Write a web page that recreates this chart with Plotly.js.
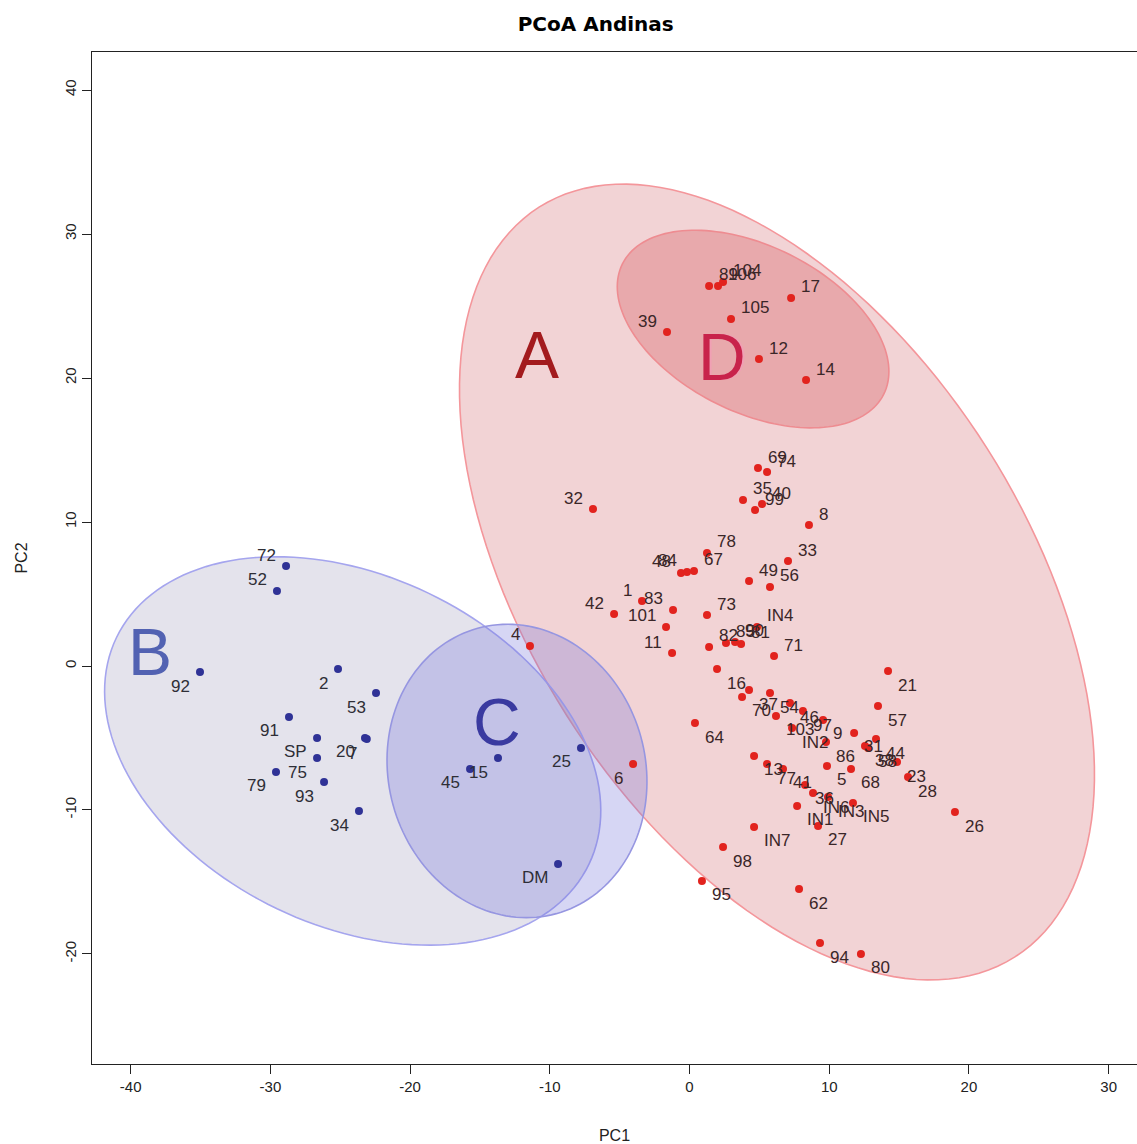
<!DOCTYPE html>
<html>
<head>
<meta charset="utf-8">
<script src="https://cdn.plot.ly/plotly-3.0.1.min.js"></script>
<style>html,body{margin:0;padding:0;background:#fff;}#chart{width:1137px;height:1144px;}</style>
</head>
<body>
<div id="chart"></div>
<script>
// ---- data: red group (A / D) ----
const redLabels = ['89','106','104','17','105','39','12','14','69','74','35','40','99','8','32','78','67','48','84','33','49','56','1','83','42','101','11','73','IN4','82','85','90','81','71','4','6',
  '16','37','70','54','103','46','97','9','IN2','86','31','44','38','58','23','28','68','5','13','77','41','36','IN6','IN3','IN5','IN1','27','IN7','26','21','57','64','98','95','62','94','80'];
const redX = [1.40,2.04,2.40,7.27,2.97,-1.61,4.97,8.34,4.90,5.55,3.83,5.19,4.69,8.55,-6.91,1.25,0.32,-0.61,-0.18,7.05,4.26,5.76,-3.40,-1.18,-5.40,-1.68,-1.25,1.25,4.83,1.40,2.61,3.26,3.69,6.05,-11.42,-4.04,
  1.97,4.26,3.76,5.76,6.19,7.19,8.12,9.56,7.34,9.77,11.78,13.35,12.56,12.78,14.85,15.64,11.56,9.84,4.62,5.55,6.69,8.27,8.84,9.91,11.70,7.70,9.20,4.62,19.00,14.21,13.49,0.39,2.40,0.89,7.84,9.34,12.27];
const redY = [26.39,26.39,26.67,25.56,24.10,23.19,21.32,19.86,13.75,13.47,11.53,11.25,10.83,9.79,10.90,7.85,6.60,6.46,6.53,7.29,5.90,5.49,4.51,3.89,3.61,2.71,0.90,3.54,2.71,1.32,1.60,1.67,1.53,0.69,1.39,-6.81,
  -0.21,-1.67,-2.15,-1.88,-3.47,-2.57,-3.13,-3.75,-4.31,-5.28,-4.65,-5.07,-5.56,-5.69,-6.67,-7.71,-7.15,-6.94,-6.25,-6.81,-7.15,-8.26,-8.82,-9.10,-9.51,-9.72,-11.11,-11.18,-10.14,-0.35,-2.78,-3.96,-12.57,-14.93,-15.49,-19.24,-20.00];

// ---- data: blue group (B / C) ----
const blueLabels = ['72','52','92','2','53','91','SP','75','79','93','20','7','34','15','45','25','DM'];
const blueX = [-28.88,-29.53,-35.04,-25.16,-22.44,-28.67,-26.66,-26.66,-29.60,-26.16,-23.23,-23.10,-23.66,-13.71,-15.71,-7.77,-9.41];
const blueY = [6.94,5.21,-0.42,-0.21,-1.88,-3.54,-5.00,-6.39,-7.36,-8.06,-5.00,-5.07,-10.07,-6.39,-7.15,-5.69,-13.75];

// ---- label placement (style only) ----
const redPos = ['tr','tr','tr','tr','tr','tl','tr','tr','tr','tr','tr','tr','tr','tr','tl','tr','tr','tl','tl','tr','tr','tr','tl','tl','tl','tl','tl','tr','tr','tr','tr','tr','tr','tr','tl','bl',
  'br','br','br','br','br','br','br','br','br','br','br','br','br','br','br','br','br','br','br','br','br','br','br','br','br','br','br','br','br','br','br','br','br','br','br','br','br'];
const bluePos = ['tl','tl','bl','bl','bl','bl','bl','bl','bl','bl','bl','bl','bl','bl','bl','bl','bl'];

// ---- group ellipses (center in data units, semi-axes in px, angle deg) ----
const groups = [
  {name:'A', cx:6.26,  cy:5.83,  a:444, b:249, ang:-57.6, fill:'rgba(212,108,115,0.30)', line:'rgba(244,150,155,1)', lx:-10.92, ly:21.6, lc:'#A31B1E'},
  {name:'D', cx:4.55,  cy:23.4,  a:146, b:83,  ang:-26.5, fill:'rgba(215,100,105,0.38)', line:'rgba(238,140,145,1)', lx:2.33, ly:21.46, lc:'#C8234B'},
  {name:'B', cx:-24.11,cy:-5.9,  a:262, b:175, ang:-25.6, fill:'rgba(147,143,179,0.25)', line:'rgba(165,165,238,1)', lx:-38.62, ly:0.97, lc:'#5262B2'},
  {name:'C', cx:-12.35,cy:-7.29, a:148, b:128.5,ang:-74.6, fill:'rgba(120,120,220,0.30)', line:'rgba(150,150,225,1)', lx:-13.78, ly:-3.89, lc:'#3A3AA0'}
];
const PXX = 13.97, PXY = 14.4;

function ellipsePath(g){
  const phi = g.ang*Math.PI/180;
  let d = '';
  const n = 160;
  for(let i=0;i<=n;i++){
    const t = 2*Math.PI*i/n;
    const ux = g.a*Math.cos(t), uy = g.b*Math.sin(t);
    const sx = ux*Math.cos(phi) - uy*Math.sin(phi);
    const sy = ux*Math.sin(phi) + uy*Math.cos(phi);
    const x = g.cx + sx/PXX, y = g.cy + sy/PXY;
    d += (i===0?'M ':' L ') + x.toFixed(4) + ',' + y.toFixed(4);
  }
  return d + ' Z';
}

const shapes = groups.map(g => ({
  type:'path', xref:'x', yref:'y', path: ellipsePath(g),
  fillcolor: g.fill, line:{color:g.line, width:1.6}, layer:'below'
}));

const annotations = [];
function addLabels(labels, xs, ys, pos, color){
  labels.forEach((t,i)=>{
    const p = pos[i];
    const right = p[1]==='r';
    const top = p[0]==='t';
    annotations.push({
      x: xs[i], y: ys[i], xref:'x', yref:'y', text: t, showarrow:false,
      xanchor: right?'left':'right', yanchor:'middle',
      xshift: right?8:-8, yshift: top?11:-14,
      font:{family:'Liberation Sans, Arial, sans-serif', size:17, color:color}
    });
  });
}
addLabels(redLabels, redX, redY, redPos, '#3a2628');
addLabels(blueLabels, blueX, blueY, bluePos, '#2e2e36');

// group letters
groups.forEach(g=>{
  if(g.name==='D'){
    annotations.push({x:g.lx, y:g.ly, xref:'x', yref:'y', text:g.name, showarrow:false, xshift:2, yshift:0,
      font:{family:'Liberation Sans, Arial, sans-serif', size:66, color:'#F0A0B4'}});
  }
  annotations.push({x:g.lx, y:g.ly, xref:'x', yref:'y', text:g.name, showarrow:false,
    font:{family:'Liberation Sans, Arial, sans-serif', size:66, color:g.lc}});
});

const traces = [
  {type:'scatter', mode:'markers', x:redX, y:redY, text:redLabels, hoverinfo:'text',
   marker:{color:'#E2231E', size:8}},
  {type:'scatter', mode:'markers', x:blueX, y:blueY, text:blueLabels, hoverinfo:'text',
   marker:{color:'#2F3296', size:8}}
];

const axisFont = {family:'Liberation Sans, Arial, sans-serif', size:15, color:'#222'};
const layout = {
  width:1137, height:1144,
  margin:{l:92, r:0, t:52, b:80, pad:0},
  paper_bgcolor:'#fff', plot_bgcolor:'#fff',
  showlegend:false,
  title:{text:'PCoA Andinas', x:0.482, xref:'paper', y:1-24/1144, yanchor:'middle', xanchor:'center',
    font:{family:'DejaVu Sans, sans-serif', size:20, color:'#000', weight:'bold'}},
  xaxis:{range:[-42.77, 32.03], tickvals:[-40,-30,-20,-10,0,10,20,30], ticktext:['-40','-30','-20','-10','0','10','20','30'],
    showgrid:false, zeroline:false, showline:true, linecolor:'#222', linewidth:1, mirror:true,
    ticks:'outside', ticklen:9, tickcolor:'#222', tickfont:axisFont,
    title:{text:'PC1', font:{family:'Liberation Sans, Arial, sans-serif', size:16, color:'#222'}, standoff:35}},
  yaxis:{range:[-27.64, 42.64], tickvals:[-20,-10,0,10,20,30,40], ticktext:['-20','-10','0','10','20','30','40'],
    showgrid:false, zeroline:false, showline:true, linecolor:'#222', linewidth:1, mirror:false,
    ticks:'outside', ticklen:9, tickcolor:'#222', tickfont:axisFont, tickangle:-90,
    title:{text:'PC2', font:{family:'Liberation Sans, Arial, sans-serif', size:16, color:'#222'}, standoff:30}},
  shapes: shapes,
  annotations: annotations
};

Plotly.newPlot('chart', traces, layout, {displayModeBar:false, staticPlot:true});
</script>
</body>
</html>
